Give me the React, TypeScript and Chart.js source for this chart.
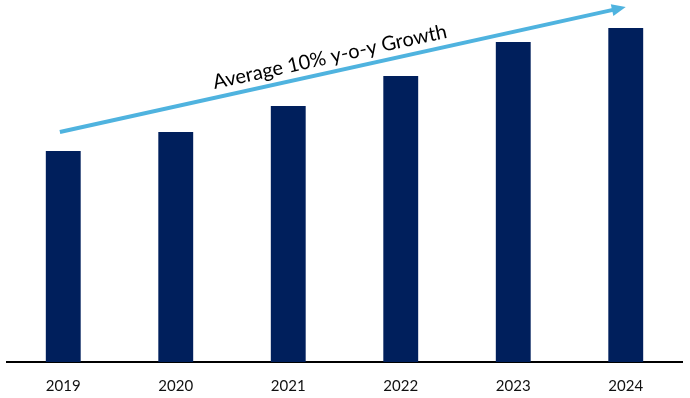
import React, { useEffect, useRef } from "react";
import { Chart, registerables } from "chart.js";

Chart.register(...registerables);

const categories = ["2019", "2020", "2021", "2022", "2023", "2024"];
const values = [211, 230, 256, 286, 320, 334];
const yMax = 360;
const arrowLabel = "Average 10% y-o-y Growth";
// arrow annotation in data space: [category index, value]
const arrowStart = [-0.03, 230];
const arrowEnd = [5, 355];

const arrowPlugin = {
  id: "growthArrow",
  afterDatasetsDraw(chart: any) {
    const { ctx, scales } = chart;
    const xs = scales.x;
    const ys = scales.y;
    const step = xs.getPixelForValue(1) - xs.getPixelForValue(0);
    const x0 = xs.getPixelForValue(0) + arrowStart[0] * step;
    const y0 = ys.getPixelForValue(arrowStart[1]);
    const x1 = xs.getPixelForValue(0) + arrowEnd[0] * step;
    const y1 = ys.getPixelForValue(arrowEnd[1]);
    const ang = Math.atan2(y1 - y0, x1 - x0);
    const color = "#4FB3DF";
    ctx.save();
    const head = 14;
    const hx = x1 - head * Math.cos(ang);
    const hy = y1 - head * Math.sin(ang);
    ctx.strokeStyle = color;
    ctx.lineWidth = 4;
    ctx.beginPath();
    ctx.moveTo(x0, y0);
    ctx.lineTo(hx + 2 * Math.cos(ang), hy + 2 * Math.sin(ang));
    ctx.stroke();
    ctx.fillStyle = color;
    ctx.beginPath();
    ctx.moveTo(x1, y1);
    ctx.lineTo(hx + 6 * Math.sin(ang), hy - 6 * Math.cos(ang));
    ctx.lineTo(hx - 6 * Math.sin(ang), hy + 6 * Math.cos(ang));
    ctx.closePath();
    ctx.fill();
    // label
    const mx = (x0 + x1) / 2;
    const my = (y0 + y1) / 2;
    ctx.translate(mx, my);
    ctx.rotate(ang);
    ctx.fillStyle = "#000000";
    ctx.font = "20px Lato";
    ctx.textAlign = "center";
    ctx.textBaseline = "bottom";
    ctx.fillText(arrowLabel, -10, -5);
    ctx.restore();
  },
};

export default function App() {
  const ref = useRef<HTMLCanvasElement>(null);
  useEffect(() => {
    const chart = new Chart(ref.current!, {
      type: "bar",
      data: {
        labels: categories,
        datasets: [
          {
            data: values,
            backgroundColor: "#001F5C",
            barPercentage: 0.31,
            categoryPercentage: 1,
          },
        ],
      },
      options: {
        animation: false,
        responsive: false,
        layout: { padding: { left: 7, right: 8, top: 2, bottom: 0 } },
        plugins: { legend: { display: false }, tooltip: { enabled: false } },
        scales: {
          x: {
            grid: { display: false },
            border: { display: true, color: "#000000", width: 2 },
            ticks: { color: "#111111", font: { family: "Lato", size: 15 }, padding: 7 },
            afterFit(scale: any) {
              scale.height = 36;
            },
          },
          y: {
            display: false,
            min: 0,
            max: yMax,
          },
        },
      },
      plugins: [arrowPlugin],
    });
    return () => chart.destroy();
  }, []);
  return (
    <div style={{ position: "fixed", left: 0, top: 0, width: 690, height: 398, background: "#fff" }}>
      <canvas ref={ref} width={690} height={398} style={{ display: "block" }} />
    </div>
  );
}
